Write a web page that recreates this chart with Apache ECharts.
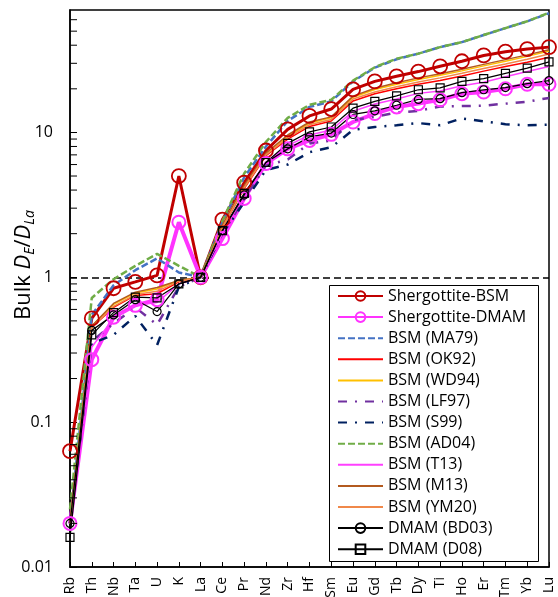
<!DOCTYPE html>
<html>
<head>
<meta charset="utf-8">
<script src="https://cdn.jsdelivr.net/npm/echarts@6/dist/echarts.min.js"></script>
<style>
  html, body { margin: 0; padding: 0; background: #fff; }
  #chart { width: 558px; height: 597px; }
</style>
</head>
<body>
<div id="chart"></div>
<script>
const elements = ['Rb', 'Th', 'Nb', 'Ta', 'U', 'K', 'La', 'Ce', 'Pr', 'Nd', 'Zr', 'Hf', 'Sm',
  'Eu', 'Gd', 'Tb', 'Dy', 'Ti', 'Ho', 'Er', 'Tm', 'Yb', 'Lu']

const shergottiteBSM = [0.063, 0.52, 0.84, 0.93, 1.03, 5.0, 1, 2.5, 4.5, 7.5, 10.5, 13.0, 14.5,
  19.8, 22.5, 24.4, 26.3, 28.6, 31.0, 34.0, 36.1, 37.6, 38.8]
const shergottiteDMAM = [0.020, 0.27, 0.53, 0.64, 0.70, 2.4, 1, 1.85, 3.5, 6.1, 7.7, 8.8, 9.7,
  11.8, 13.5, 15.0, 15.8, 16.8, 18.5, 19.0, 20.0, 21.5, 21.5]
const bsmMA79 = [0.020, 0.55, 0.88, 1.12, 1.35, 1.08, 1, 2.4, 4.9, 8.0, 12.0, 15.0, 16.4,
  22.5, 28.0, 32.0, 35.0, 38.8, 42.0, 47.0, 52.5, 58.5, 66.5]
const bsmOK92 = [0.020, 0.45, 0.62, 0.75, 0.77, 0.93, 1, 2.2, 4.1, 6.9, 9.0, 11.0, 12.0,
  16.5, 18.5, 20.0, 21.5, 22.8, 24.5, 26.5, 28.5, 30.5, 33.0]
const bsmWD94 = [0.020, 0.46, 0.65, 0.78, 0.83, 0.95, 1, 2.25, 4.2, 7.1, 9.4, 11.6, 12.6,
  17.5, 19.8, 21.5, 23.2, 24.8, 26.6, 28.8, 31.0, 33.5, 36.5]
const bsmLF97 = [0.020, 0.36, 0.48, 0.62, 0.47, 0.86, 1, 2.0, 3.5, 5.9, 6.5, 8.4, 8.8,
  12.2, 12.8, 13.7, 14.1, 15.1, 15.2, 15.3, 15.8, 16.3, 17.3]
const bsmS99 = [0.020, 0.35, 0.40, 0.54, 0.34, 0.86, 1, 2.0, 3.3, 5.5, 6.0, 7.3, 7.9,
  10.4, 10.9, 11.2, 11.6, 11.2, 12.5, 11.9, 11.4, 11.2, 11.3]
const bsmAD04 = [0.025, 0.72, 0.97, 1.2, 1.45, 1.2, 1, 2.45, 5.2, 8.6, 12.6, 15.5, 16.8,
  22.8, 28.2, 32.3, 35.0, 38.8, 42.0, 47.0, 52.5, 58.5, 67.0]
const bsmT13 = [0.020, 0.33, 0.52, 0.64, 0.67, 0.90, 1, 2.0, 3.7, 6.2, 8.1, 9.6, 10.4,
  14.0, 15.7, 17.0, 18.6, 19.3, 21.0, 22.2, 24.2, 26.3, 28.5]
const bsmM13 = [0.020, 0.46, 0.66, 0.79, 0.85, 0.95, 1, 2.3, 4.3, 7.2, 9.6, 11.8, 12.8,
  17.8, 20.2, 22.0, 23.8, 25.4, 27.3, 29.5, 31.8, 34.3, 37.2]
const bsmYM20 = [0.020, 0.45, 0.63, 0.76, 0.80, 0.94, 1, 2.2, 4.15, 7.0, 9.2, 11.3, 12.3,
  17.0, 19.0, 20.7, 22.3, 23.8, 25.6, 27.6, 29.7, 32.0, 34.8]
const dmamBD03 = [0.020, 0.43, 0.55, 0.70, 0.58, 0.90, 1, 2.1, 3.7, 6.2, 7.7, 9.3, 9.9,
  13.3, 14.1, 15.4, 16.9, 17.1, 18.8, 19.7, 20.4, 21.7, 22.8]
const dmamD08 = [0.016, 0.40, 0.57, 0.73, 0.72, 0.90, 1, 2.1, 3.8, 6.2, 8.4, 10.1, 10.9,
  14.7, 16.4, 17.9, 19.7, 20.3, 22.5, 23.5, 25.6, 27.8, 30.7]

// minor ticks of the log axis (2..9 of each decade)
const minorTicks = [0.02, 0.03, 0.04, 0.05, 0.06, 0.07, 0.08, 0.09,
  0.2, 0.3, 0.4, 0.5, 0.6, 0.7, 0.8, 0.9,
  2, 3, 4, 5, 6, 7, 8, 9,
  20, 30, 40, 50, 60]

const FONT = 'Open Sans'

const line = (name, data, color, width, type, symbol, size, border) => ({
  name,
  type: 'line',
  data,
  symbol: symbol || 'none',
  symbolSize: size || 0,
  showSymbol: !!symbol,
  lineStyle: { color, width, type: type || 'solid' },
  itemStyle: symbol
    ? { color: 'transparent', borderColor: color, borderWidth: border || 1.5 }
    : { color: 'transparent', borderColor: 'transparent', borderWidth: 0 },
  emphasis: { disabled: true },
  animation: false
})

const series = [
  line('Shergottite-BSM', shergottiteBSM, '#C00000', 3, 'solid', 'circle', 14, 1.8),
  line('Shergottite-DMAM', shergottiteDMAM, '#FF33FF', 4, 'solid', 'circle', 13, 2),
  line('BSM (MA79)', bsmMA79, '#4472C4', 2.5, [7, 3]),
  line('BSM (OK92)', bsmOK92, '#FF0000', 1.5),
  line('BSM (WD94)', bsmWD94, '#FFC000', 1.5),
  line('BSM (LF97)', bsmLF97, '#7030A0', 2.5, [9, 8, 2, 8]),
  line('BSM (S99)', bsmS99, '#002060', 2.5, [9, 8, 2, 8]),
  line('BSM (AD04)', bsmAD04, '#70AD47', 2.5, [7, 3]),
  line('BSM (T13)', bsmT13, '#FF40FF', 1.5),
  line('BSM (M13)', bsmM13, '#B35A1F', 1.5),
  line('BSM (YM20)', bsmYM20, '#F0884A', 1.5),
  line('DMAM (BD03)', dmamBD03, '#000000', 1.25, 'solid', 'circle', 8, 1.2),
  line('DMAM (D08)', dmamD08, '#000000', 1.25, 'solid', 'rect', 8, 1.2)
]

series[0].markLine = {
  silent: true,
  symbol: 'none',
  label: { show: false },
  lineStyle: { color: '#000', width: 1.5, type: [7, 4] },
  data: [{ yAxis: 1 }],
  z: 1
}

series.push({
  type: 'custom',
  silent: true,
  clip: false,
  z: 10,
  data: minorTicks.map(v => [0, v]),
  encode: { x: 0, y: 1 },
  renderItem: (params, api) => {
    const p = api.coord([0, api.value(1)])
    return {
      type: 'line',
      shape: { x1: p[0], y1: p[1], x2: p[0] + 7, y2: p[1] },
      style: { stroke: '#000', lineWidth: 1 }
    }
  }
})

const chart = echarts.init(document.getElementById('chart'))
chart.setOption({
  animation: false,
  grid: {
    left: 70, right: 9, top: 10, bottom: 30,
    containLabel: false,
    outerBoundsMode: 'none',
    show: true, borderColor: '#000', borderWidth: 1.5
  },
  // legend frame
  graphic: [{
    type: 'rect',
    z: 3,
    silent: true,
    shape: { x: 329.5, y: 285.5, width: 209, height: 276 },
    style: { fill: '#fff', stroke: '#000', lineWidth: 1 }
  }],
  legend: {
    data: series.filter(s => s.name).map(s => s.name),
    orient: 'vertical',
    left: 329,
    top: 285,
    z: 5,
    padding: [3, 8, 4, 8],
    itemWidth: 45,
    itemHeight: 12,
    itemGap: 5.1,
    selectedMode: false,
    textStyle: { fontFamily: FONT, fontSize: 16, color: '#000', lineHeight: 16 }
  },
  xAxis: {
    type: 'category',
    data: elements,
    boundaryGap: false,
    axisLine: { lineStyle: { color: '#000', width: 1.5 } },
    axisTick: { inside: true, length: 5, lineStyle: { color: '#000' } },
    axisLabel: { rotate: 90, margin: 10, fontFamily: FONT, fontSize: 14, color: '#000' },
    splitLine: { show: false }
  },
  yAxis: {
    type: 'log',
    min: 0.01,
    max: 70,
    name: '{n|Bulk }{i|D}{s|E}{n|/}{i|D}{s|La}',
    nameLocation: 'middle',
    nameRotate: 90,
    nameGap: 33,
    nameMoveOverlap: false,
    nameTextStyle: {
      padding: [0, 0, 0, 47],
      rich: {
        n: { fontFamily: FONT, fontSize: 22, color: '#000', lineHeight: 26 },
        i: { fontFamily: FONT, fontSize: 22, fontStyle: 'italic', color: '#000', lineHeight: 26 },
        s: { fontFamily: FONT, fontSize: 14, fontStyle: 'italic', color: '#000', lineHeight: 14, verticalAlign: 'bottom' }
      }
    },
    axisLine: { show: true, lineStyle: { color: '#000', width: 1.5 } },
    axisTick: { show: true, inside: true, length: 7, lineStyle: { color: '#000' } },
    axisLabel: { margin: 17, fontFamily: FONT, fontSize: 16, color: '#000', showMaxLabel: false },
    splitLine: { show: false }
  },
  series
})
</script>
</body>
</html>
